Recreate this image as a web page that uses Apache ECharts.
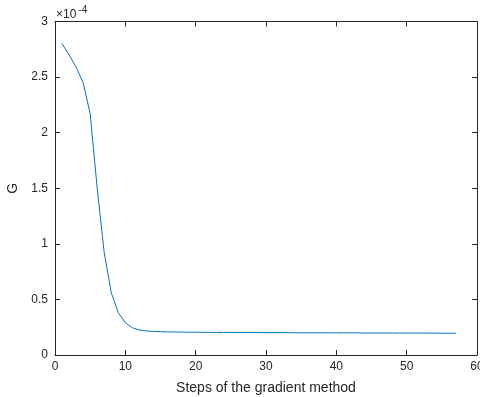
<!DOCTYPE html>
<html><head><meta charset="utf-8">
<script src="https://cdn.jsdelivr.net/npm/echarts@6/dist/echarts.min.js"></script>
<style>html,body{margin:0;padding:0;background:#fff}#c{width:480px;height:397px}</style>
</head><body><div id="c"></div>
<script>
const steps = [];
for (let i = 1; i <= 57; i++) steps.push(i);
// G values in units of 1e-4
const gValues = [
  2.80, 2.70, 2.59, 2.45, 2.17, 1.50, 0.92, 0.56, 0.38, 0.29,
  0.245, 0.225, 0.216, 0.212, 0.210, 0.208, 0.207, 0.206, 0.205, 0.205,
  0.204, 0.204, 0.203, 0.203, 0.203, 0.202, 0.202, 0.202, 0.202, 0.201,
  0.201, 0.201, 0.201, 0.200, 0.200, 0.200, 0.200, 0.200, 0.199, 0.199,
  0.199, 0.199, 0.199, 0.198, 0.198, 0.198, 0.198, 0.198, 0.197, 0.197,
  0.197, 0.197, 0.197, 0.197, 0.196, 0.196, 0.196
];
const xTicks = [0, 10, 20, 30, 40, 50, 60];
const yTicks = [0, 0.5, 1, 1.5, 2, 2.5, 3];
const exponentText = '-4';
const xLabel = 'Steps of the gradient method';
const yLabel = 'G';

const FONT = '"Liberation Sans", Arial, Helvetica, sans-serif';
const AX = '#262626';
const chart = echarts.init(document.getElementById('c'), null, {renderer: 'canvas'});
const axisCommon = {
  axisLine: {show: true, onZero: false, lineStyle: {color: AX, width: 1}},
  axisTick: {show: true, inside: true, length: 5, lineStyle: {color: AX, width: 1}},
  splitLine: {show: false},
};
chart.setOption({
  animation: false,
  grid: {left: 55, right: 3, top: 21.5, bottom: 42, containLabel: false, outerBoundsMode: 'none'},
  xAxis: [
    Object.assign({
      type: 'value', position: 'bottom', min: xTicks[0], max: xTicks[xTicks.length-1], interval: 10,
      name: xLabel, nameLocation: 'middle', nameGap: 26,
      nameTextStyle: {fontFamily: FONT, fontSize: 14, color: '#262626', verticalAlign: 'top'},
      axisLabel: {fontFamily: FONT, fontSize: 12, color: '#262626', margin: 6}
    }, axisCommon),
    Object.assign({
      type: 'value', position: 'top', min: xTicks[0], max: xTicks[xTicks.length-1], interval: 10,
      axisLabel: {show: false}
    }, axisCommon)
  ],
  yAxis: [
    Object.assign({
      type: 'value', position: 'left', min: yTicks[0], max: yTicks[yTicks.length-1], interval: 0.5,
      name: yLabel, nameLocation: 'middle', nameGap: 33, nameRotate: 90,
      nameTextStyle: {fontFamily: FONT, fontSize: 14, color: '#262626'},
      axisLabel: {fontFamily: FONT, fontSize: 12, color: '#262626', margin: 7}
    }, axisCommon),
    Object.assign({
      type: 'value', position: 'right', min: yTicks[0], max: yTicks[yTicks.length-1], interval: 0.5,
      axisLabel: {show: false}
    }, axisCommon)
  ],
  graphic: [{
    type: 'text', left: 56, top: 5,
    style: {
      text: '{a|×10}{b|' + exponentText + '}',
      rich: {
        a: {fontFamily: FONT, fontSize: 12, fill: '#262626', verticalAlign: 'bottom'},
        b: {fontFamily: FONT, fontSize: 10, fill: '#262626', verticalAlign: 'top', padding: [0,0,6,2]}
      }
    }
  }],
  series: [{
    type: 'line', xAxisIndex: 0, yAxisIndex: 0,
    data: steps.map((s, i) => [s, gValues[i]]),
    showSymbol: false, symbol: 'none',
    lineStyle: {color: '#0072BD', width: 1},
    smooth: false
  }]
});
</script></body></html>
